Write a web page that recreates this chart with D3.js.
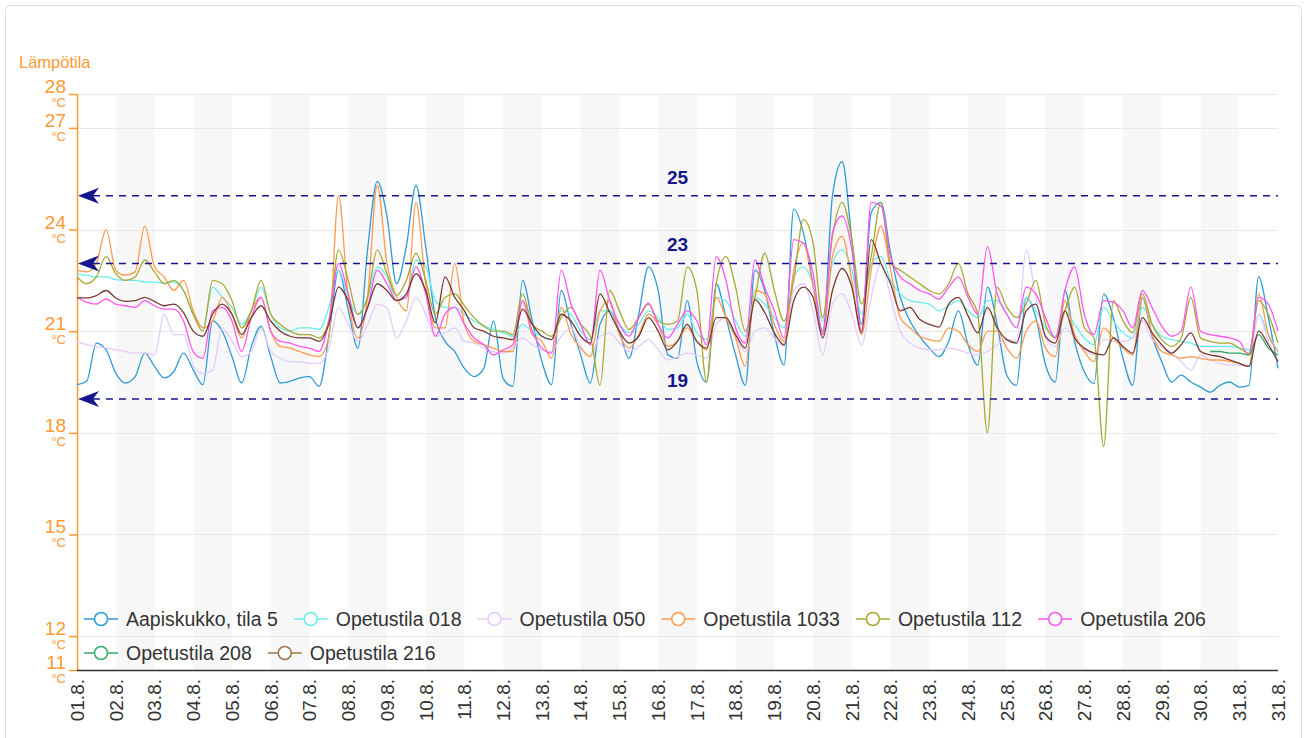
<!DOCTYPE html>
<html><head><meta charset="utf-8">
<script src="https://cdn.jsdelivr.net/npm/d3@7"></script>
<style>
body{margin:0;background:#fff;}
svg{display:block;font-family:"Liberation Sans",Arial,sans-serif;}
</style>
</head><body>
<svg id="c" width="1308" height="738"></svg>
<script>
// ---------- data ----------
const yAxisTitle = "Lämpötila";
const yTicks = [11, 12, 15, 18, 21, 24, 27, 28];
const xTickLabels = ["01.8.","02.8.","03.8.","04.8.","05.8.","06.8.","07.8.","08.8.","09.8.","10.8.",
  "11.8.","12.8.","13.8.","14.8.","15.8.","16.8.","17.8.","18.8.","19.8.","20.8.",
  "21.8.","22.8.","23.8.","24.8.","25.8.","26.8.","27.8.","28.8.","29.8.","30.8.","31.8.","31.8."];
const refLines = [25, 23, 19];
const seriesNames = ["Aapiskukko, tila 5","Opetustila 018","Opetustila 050","Opetustila 1033",
  "Opetustila 112","Opetustila 206","Opetustila 208","Opetustila 216"];
const seriesColors = ["#2e9bd6","#66eeee","#e3cbff","#ff9a4d","#a8a830","#ff55ee","#33aa66","#773a33"];
const legendColors = ["#2e9bd6","#66eeee","#e3cbff","#ff9a4d","#a8a830","#ff55ee","#33aa66","#9c7446"];
const startUTC = Date.UTC(2023, 7, 1);
const stepHours = 6;

const s5 = [19.42,19.52,20.65,20.45,19.76,19.47,19.66,20.35,19.96,19.62,
 19.81,20.35,19.86,19.42,21.3,21.0,20.25,19.47,20.55,21.14,
 20.25,19.47,19.52,19.62,19.66,19.37,20.85,22.8,21.63,20.5,
 23.4,25.42,24.4,22.4,23.5,25.3,23.5,21.4,20.7,20.4,
 19.9,19.66,19.9,21.3,19.6,19.37,22.5,21.3,20.1,19.42,
 22.2,21.2,20.3,19.47,21.2,21.6,21.0,20.2,21.5,22.9,
 22.2,20.3,20.2,21.9,20.1,19.5,22.4,21.4,20.3,19.4,
 22.8,22.2,20.9,20.0,24.6,23.9,22.4,21.0,25.0,26.0,
 23.7,21.2,24.5,24.8,23.3,22.0,21.3,20.85,20.5,20.25,
 20.7,21.6,20.6,20.0,22.3,21.2,19.7,19.4,22.0,21.4,
 20.0,19.5,22.2,20.7,19.8,19.45,22.1,21.4,20.2,19.4,
 22.0,20.85,20.1,19.5,19.7,19.5,19.35,19.2,19.4,19.5,
 19.35,19.4,22.6,21.4,19.9];
const s018 = [22.67,22.65,22.6,22.6,22.52,22.5,22.5,22.45,22.45,22.42,
 22.45,22.2,21.5,21.1,22.3,22.0,21.7,21.2,21.6,22.3,
 21.5,21.1,21.0,21.1,21.1,21.05,21.7,22.8,22.0,21.5,
 22.0,22.9,22.6,21.9,22.0,23.1,22.9,21.9,21.7,21.7,
 21.5,21.3,21.15,21.05,20.95,20.85,21.2,21.0,20.85,20.75,
 21.6,21.5,21.0,20.75,21.6,21.6,21.2,20.95,21.2,21.6,
 21.4,21.05,21.1,21.5,20.95,20.75,22.0,21.9,21.3,20.85,
 22.0,21.8,21.4,21.1,22.6,22.9,22.4,21.3,23.0,23.4,
 22.8,21.5,23.0,23.2,22.5,22.1,21.9,21.85,21.8,21.6,
 21.75,21.9,21.6,21.4,21.9,21.9,21.5,21.1,22.0,21.6,
 21.1,20.85,21.6,21.2,20.8,20.6,21.7,21.3,20.95,20.8,
 21.7,21.2,20.85,20.75,20.7,20.65,20.55,20.55,20.55,20.55,
 20.5,20.45,21.5,20.9,20.4];
const s050 = [20.7,20.6,20.55,20.5,20.45,20.4,20.35,20.35,20.3,21.5,
 20.9,20.9,20.0,19.75,19.85,21.1,20.7,20.25,20.4,21.1,
 20.4,20.2,20.1,20.1,20.05,20.05,20.5,21.7,21.2,20.7,
 21.2,21.8,21.7,20.8,21.3,22.0,21.5,20.85,20.95,21.1,
 20.7,20.65,20.5,20.4,20.35,20.5,20.8,20.6,20.45,20.4,
 20.85,21.1,20.55,20.25,20.85,20.95,20.65,20.4,20.55,20.75,
 20.45,20.15,20.25,20.35,20.3,20.2,21.2,21.4,20.85,20.4,
 21.0,21.1,20.8,20.55,22.2,22.4,21.6,20.3,21.8,22.1,
 21.5,20.6,22.0,23.0,22.0,21.0,20.65,20.5,20.45,20.45,
 20.5,20.45,20.35,20.3,20.4,20.6,20.75,20.7,23.4,22.0,
 20.8,20.55,21.1,20.8,20.45,20.3,20.75,20.7,20.7,20.8,
 21.3,20.75,20.55,20.35,20.1,19.85,20.3,20.15,20.05,20.0,
 20.0,19.96,21.5,20.7,20.1];
const s1033 = [22.8,22.75,23.0,24.0,22.8,22.65,22.75,24.1,22.9,22.6,
 22.2,22.5,21.6,21.1,21.3,22.0,21.5,20.8,21.6,22.0,
 21.0,20.55,20.5,20.4,20.3,20.25,20.8,25.0,22.0,20.8,
 22.0,25.3,23.0,22.0,21.6,24.8,22.4,21.1,21.1,23.0,
 21.2,20.7,20.6,20.5,20.4,20.4,21.9,20.9,20.7,20.2,
 21.7,20.9,20.5,20.25,21.6,21.9,20.9,20.5,20.9,21.5,
 21.2,20.55,20.7,21.1,20.7,20.45,22.0,21.4,20.8,19.96,
 22.2,22.1,21.2,20.7,22.8,23.6,22.3,20.9,23.2,23.8,
 22.5,20.9,22.8,24.1,22.8,21.4,21.1,20.85,20.75,20.7,
 21.1,21.0,20.6,20.4,21.0,21.0,20.5,20.2,21.0,21.3,
 20.5,20.25,21.9,20.9,20.4,20.1,21.1,20.8,20.5,20.3,
 22.0,20.9,20.4,20.3,20.2,20.25,20.2,20.15,20.15,20.1,
 20.05,19.96,22.1,20.9,20.4];
const s112 = [22.6,22.4,22.6,23.2,22.7,22.5,22.6,23.1,22.75,22.4,
 22.5,22.2,21.5,21.0,22.5,22.4,21.9,21.1,21.6,22.5,
 21.5,21.2,21.0,20.9,20.9,20.8,21.3,23.4,22.5,21.5,
 22.0,23.4,22.7,22.05,22.5,23.3,22.5,21.5,22.0,22.1,
 21.75,21.4,21.15,21.0,21.0,20.9,22.1,21.2,21.0,20.85,
 21.4,21.7,21.2,20.85,19.4,22.2,21.6,21.05,21.4,21.8,
 21.3,21.2,21.3,22.9,22.2,19.5,22.4,23.2,22.3,21.0,
 22.0,23.3,22.2,21.3,22.5,24.3,23.6,21.4,23.8,24.8,
 23.7,21.8,23.2,24.8,23.0,22.8,22.6,22.4,22.2,22.1,
 22.4,23.0,22.1,21.5,18.0,22.3,21.7,21.4,21.8,22.5,
 21.2,20.8,21.6,22.3,21.1,20.8,17.6,21.9,21.3,20.95,
 22.1,21.2,20.75,20.55,20.8,22.0,20.8,20.7,20.65,20.65,
 20.5,20.35,21.9,21.5,20.65];
const s206 = [22.0,21.85,21.8,21.95,21.8,21.75,21.7,21.9,21.75,21.65,
 21.65,21.3,20.4,20.2,21.6,21.7,21.3,20.4,21.4,22.0,
 21.0,20.7,20.65,20.55,20.5,20.4,21.3,23.0,22.1,21.1,
 21.7,22.8,22.4,21.9,22.0,22.9,22.1,20.85,21.5,21.7,
 21.2,20.8,20.6,20.3,20.45,20.6,21.9,21.0,20.5,20.35,
 22.8,21.8,21.2,20.6,22.8,21.9,21.2,20.85,21.4,21.83,
 21.2,20.8,21.2,21.6,21.3,20.6,23.2,22.5,21.1,20.65,
 23.1,22.3,21.6,20.8,23.7,23.6,22.7,20.9,23.9,24.4,
 23.4,21.0,24.8,24.7,23.2,22.6,22.4,22.2,22.1,21.95,
 22.3,22.6,22.0,21.5,23.5,22.1,21.5,21.1,22.3,22.1,
 21.4,20.8,22.2,22.9,21.5,20.9,21.9,21.85,21.6,21.1,
 22.2,21.7,21.15,20.85,21.0,22.3,21.0,20.9,20.85,20.8,
 20.7,20.3,22.0,21.8,21.0];
// Opetustila 208 only has readings for the last days of the month
const s208Start = 117;
const s208 = [20.4,20.4,20.35,20.35,20.3,20.9,20.5,20.3];
const s216 = [21.98,21.98,22.05,22.2,21.98,21.88,21.9,22.0,21.88,21.75,
 21.8,21.55,21.0,20.85,21.5,21.8,21.5,20.9,21.4,21.75,
 21.3,21.0,20.85,20.8,20.8,20.7,21.2,22.3,21.9,21.1,
 21.7,22.4,22.2,21.9,22.1,22.7,22.2,21.25,22.6,22.0,
 21.6,21.1,21.0,20.85,20.8,20.75,21.65,21.2,20.85,20.75,
 21.5,21.3,20.85,20.65,22.1,21.55,21.0,20.65,20.85,21.4,
 21.0,20.45,20.7,21.2,20.7,20.5,21.4,21.4,20.9,20.5,
 21.93,21.55,20.95,20.6,21.9,22.3,22.0,20.8,22.2,22.85,
 22.3,20.95,23.7,23.0,22.4,21.6,21.7,21.35,21.2,21.12,
 21.8,22.0,21.45,20.95,21.7,21.1,20.75,20.65,21.6,21.8,
 20.85,20.65,21.6,20.8,20.5,20.35,20.3,20.8,20.55,20.35,
 21.4,20.95,20.6,20.35,20.6,20.95,20.4,20.3,20.25,20.15,
 20.05,19.96,21.0,20.6,20.1];

// ---------- build ----------
const seriesValues = [s5, s018, s050, s1033, s112, s206, s208, s216];
const seriesStarts = [0, 0, 0, 0, 0, 0, s208Start, 0];
const series = seriesNames.map((name, k) => ({
  name, color: seriesColors[k], legendColor: legendColors[k],
  points: seriesValues[k].map((v, i) => ({
    t: new Date(startUTC + (seriesStarts[k] + i) * stepHours * 3600e3), v }))
}));

const svg = d3.select("#c");
const L = 77, R = 1278, T = 94, B = 670;
const orange = "#ff9933", navy = "#16168c";

const x = d3.scaleUtc().domain([new Date(startUTC), new Date(Date.UTC(2023, 8, 1))]).range([L, R]);
const y = d3.scaleLinear().domain([11, 28]).range([B, T]);

// frame
svg.append("rect").attr("x", 5.5).attr("y", 5.5).attr("width", 1296).attr("height", 745)
  .attr("rx", 5).attr("fill", "#fff").attr("stroke", "#dddddd");

// alternating day bands
const days = d3.utcDay.range(new Date(startUTC), new Date(Date.UTC(2023, 8, 1)));
svg.append("g").selectAll("rect").data(days.filter((d, i) => i % 2 === 1)).join("rect")
  .attr("x", d => x(d)).attr("y", T)
  .attr("width", d => x(d3.utcDay.offset(d, 1)) - x(d)).attr("height", B - T)
  .attr("fill", "#f7f7f7");

// gridlines
svg.append("g").selectAll("line").data(yTicks).join("line")
  .attr("x1", L).attr("x2", R).attr("y1", d => Math.round(y(d)) + 0.5).attr("y2", d => Math.round(y(d)) + 0.5)
  .attr("stroke", "#e8e8e8");

// y axis
const ya = svg.append("g").attr("transform", `translate(${L},0)`)
  .call(d3.axisLeft(y).tickValues(yTicks).tickSize(8).tickFormat(""));
ya.select(".domain").attr("stroke", orange).attr("stroke-width", 1.5).attr("d", `M0.5,${T}V${B}`);
ya.selectAll(".tick line").attr("stroke", orange).attr("stroke-width", 1.5);
const yl = svg.append("g").selectAll("g").data(yTicks).join("g")
  .attr("transform", d => `translate(66,${y(d)})`);
yl.append("text").attr("text-anchor", "end").attr("y", -1).attr("fill", orange)
  .attr("font-size", 19).text(d => d);
yl.append("text").attr("text-anchor", "end").attr("y", 13).attr("fill", orange)
  .attr("font-size", 13).text("°C");
svg.append("text").attr("x", 19).attr("y", 68).attr("fill", orange).attr("font-size", 16.5).text(yAxisTitle);

// x axis
const xTickDates = xTickLabels.map((s, i) => new Date(startUTC + i * 86400e3));
svg.append("line").attr("x1", L).attr("x2", R).attr("y1", B + 0.5).attr("y2", B + 0.5)
  .attr("stroke", "#333").attr("stroke-width", 1.5);
svg.append("g").selectAll("text").data(xTickDates).join("text")
  .attr("transform", d => `translate(${x(d)},679) rotate(-90)`)
  .attr("text-anchor", "end").attr("dy", "0.36em").attr("font-size", 19).attr("fill", "#333")
  .text((d, i) => xTickLabels[i]);

// series lines
const line = d3.line().x(d => x(d.t)).y(d => y(d.v)).defined(d => d.v != null).curve(d3.curveMonotoneX);
svg.append("g").selectAll("path").data(series).join("path")
  .attr("d", d => line(d.points)).attr("fill", "none")
  .attr("stroke", d => d.color).attr("stroke-width", 1.3).attr("stroke-linejoin", "round");

// reference lines
const rg = svg.append("g").selectAll("g").data(refLines).join("g");
rg.append("line").attr("x1", L + 16).attr("x2", R).attr("y1", d => y(d)).attr("y2", d => y(d))
  .attr("stroke", navy).attr("stroke-width", 1.5).attr("stroke-dasharray", "7,6");
rg.append("path").attr("fill", navy)
  .attr("d", d => `M${L + 1},${y(d)}L${L + 22},${y(d) - 8}L${L + 16},${y(d)}L${L + 22},${y(d) + 8}Z`);
rg.append("text").attr("x", (L + R) / 2).attr("y", d => y(d) - 12).attr("text-anchor", "middle")
  .attr("font-size", 19).attr("font-weight", "bold").attr("fill", navy).text(d => d);

// legend
const legend = svg.append("g");
let lx = 84, row = 0;
const rowY = [619, 653];
series.forEach((s, k) => {
  if (k === 6) { lx = 84; row = 1; }
  const cy = rowY[row];
  const g = legend.append("g");
  g.append("line").attr("x1", lx).attr("x2", lx + 34).attr("y1", cy).attr("y2", cy)
    .attr("stroke", s.legendColor).attr("stroke-width", 1.5);
  g.append("circle").attr("cx", lx + 17).attr("cy", cy).attr("r", 6.5)
    .attr("fill", "#fff").attr("stroke", s.legendColor).attr("stroke-width", 1.5);
  const t = g.append("text").attr("x", lx + 42).attr("y", cy + 7).attr("font-size", 19.5)
    .attr("fill", "#333").text(s.name);
  lx = lx + 42 + t.node().getComputedTextLength() + 16;
});
</script>
</body></html>
